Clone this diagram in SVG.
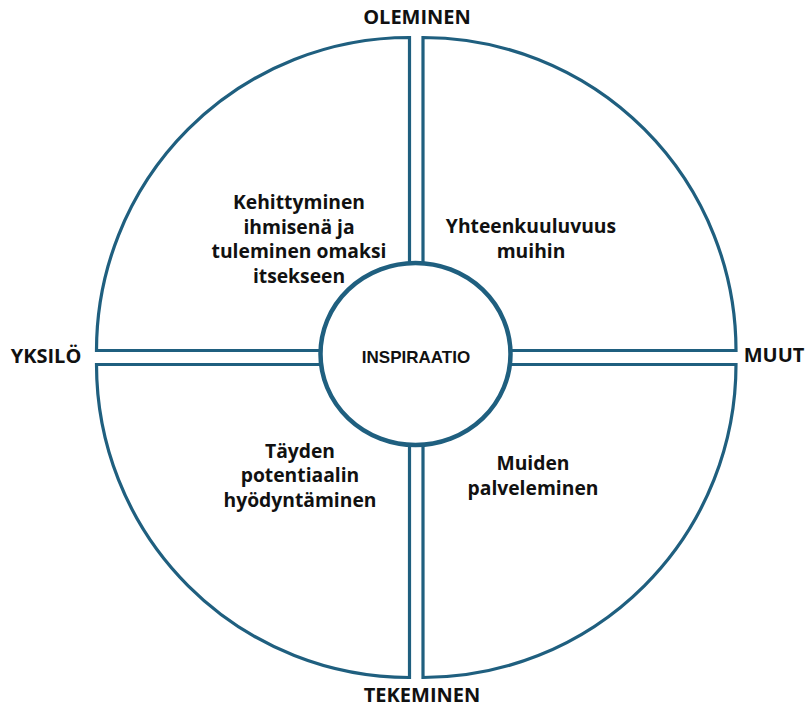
<svg xmlns="http://www.w3.org/2000/svg" width="808" height="708" viewBox="0 0 808 708">
  <style>
    .quad { fill: #ffffff; stroke: #1f5f7f; stroke-width: 3.2; stroke-linejoin: miter; }
    .hub { fill: #ffffff; stroke: #1f5f7f; stroke-width: 4.5; }
    .axis { font-family: "Open Sans", "Liberation Sans", sans-serif; font-weight: 700; font-size: 20px; fill: #111111; text-anchor: middle; }
    .body { font-family: "Open Sans", "Liberation Sans", sans-serif; font-weight: 700; font-size: 19.3px; fill: #111111; text-anchor: middle; }
    .hubtext { font-family: "Liberation Sans", Arial, sans-serif; font-weight: 700; font-size: 17px; fill: #111111; text-anchor: middle; }
  </style>
  <rect width="808" height="708" fill="#ffffff"/>

  <!-- four quarter sectors around the hub -->
  <g id="quadrant-top-left">
    <path class="quad" d="M409.5,350.5 L409.5,37.5 A313,313 0 0 0 96.5,350.5 Z"/>
    <text class="body" x="299" y="209">Kehittyminen</text>
    <text class="body" x="299" y="233.5">ihmisenä ja</text>
    <text class="body" x="299" y="258">tuleminen omaksi</text>
    <text class="body" x="299" y="282.5">itsekseen</text>
  </g>
  <g id="quadrant-top-right">
    <path class="quad" d="M423,350.5 L423,37.5 A313,313 0 0 1 736,350.5 Z"/>
    <text class="body" x="531" y="233">Yhteenkuuluvuus</text>
    <text class="body" x="531" y="257.5">muihin</text>
  </g>
  <g id="quadrant-bottom-left">
    <path class="quad" d="M409.5,364.5 L96.5,364.5 A313,313 0 0 0 409.5,677.5 Z"/>
    <text class="body" x="300" y="457.5">Täyden</text>
    <text class="body" x="300" y="482">potentiaalin</text>
    <text class="body" x="300" y="506.5">hyödyntäminen</text>
  </g>
  <g id="quadrant-bottom-right">
    <path class="quad" d="M423,364.5 L423,677.5 A313,313 0 0 0 736,364.5 Z"/>
    <text class="body" x="533" y="470">Muiden</text>
    <text class="body" x="533" y="494.5">palveleminen</text>
  </g>

  <!-- central hub -->
  <g id="hub">
    <ellipse class="hub" cx="415.5" cy="354" rx="95" ry="91"/>
    <text class="hubtext" x="416" y="362.5">INSPIRAATIO</text>
  </g>

  <!-- axis labels -->
  <g id="axis-labels">
    <text class="axis" x="417" y="24">OLEMINEN</text>
    <text class="axis" x="46" y="363">YKSILÖ</text>
    <text class="axis" x="774" y="362">MUUT</text>
    <text class="axis" x="422" y="702">TEKEMINEN</text>
  </g>
</svg>
